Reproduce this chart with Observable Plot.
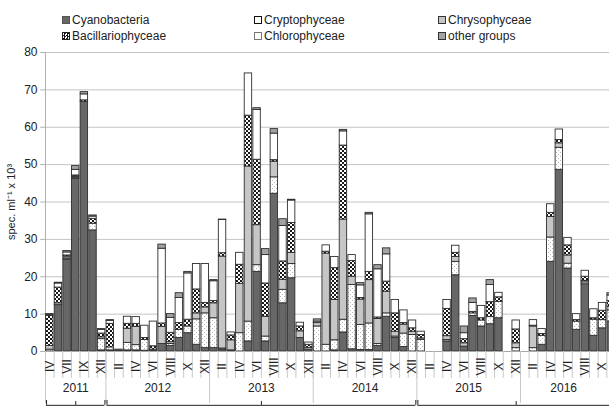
<!DOCTYPE html>
<html><head><meta charset="utf-8">
<script src="https://cdn.jsdelivr.net/npm/d3@7"></script>
<script src="https://cdn.jsdelivr.net/npm/@observablehq/plot@0.6"></script>
<style>
html,body{margin:0;padding:0;background:#fff;overflow:hidden;}
body{font-family:"Liberation Sans",Arial,sans-serif;}
#legend{position:relative;height:44px;width:609px;font-size:12px;color:#222;}
.item{position:absolute;display:flex;align-items:center;white-space:nowrap;line-height:14px;}
.sw{width:8px;height:8px;border:1px solid #333;margin-right:2px;box-sizing:border-box;}
</style></head><body>
<div id="legend"></div>
<div id="chart"></div>
<script>
// ---- categories (sampling months per year) ----
const roman = ["I","II","III","IV","V","VI","VII","VIII","IX","X","XI","XII"];
const years = [2011, 2012, 2013, 2014, 2015, 2016];
const sampleMonths = [
  ["IV","VI","VII","VIII","IX","XI","XII"],
  roman, roman, roman, roman,
  roman.slice(0, 11)
];
// slot range used to centre each year label
const yearLabelSpan = [[0,7],[7,19],[19,31],[31,43],[43,55],[55,65]];
// periods marked with brackets below the axis (slot ranges)
const periods = [[0,7],[7,43],[43,66]];
const yTicks = [0,10,20,30,40,50,60,70,80];

// ---- series values (spec. ml-1 x 10^3), null = no sample ----
const cyanobacteria = [0,12.4,24.6,46.2,66.8,32.4,0.3, 0.3,0.2,0.3,0.3,0.2,0.2,2.0,1.5,3.6,4.9,1.8,0.9,
  0.9,0.5,0.3,0,2.7,21.3,2.7,42.2,12.9,19.6,3.6,0.5, 0,0,0.3,5.1,0.6,0.4,0.4,1.5,9.3,3.6,1.2,0,
  0,null,null,2.7,20.4,1.3,9.5,6.7,7.3,8.9,null,0, null,0,1.8,24.0,48.6,22.2,5.8,18.0,4.2,6.2,8.0];
const chlorophyceae = [0.5,0,0.3,0.3,0,1.8,3.0, 0.8,0,2.0,1.4,2.9,0.3,0,0.5,2.2,1.8,6.8,9.3,
  8.0,0.3,0,4.9,5.3,1.8,1.3,4.4,3.6,3.8,0,0, 6.7,1.8,2.7,3.4,17.2,6.7,7.1,0.5,0.9,0.4,3.6,4.4,
  3.1,null,null,0.4,3.6,0,0.7,1.6,1.9,4.4,null,0.9, null,0.9,2.4,6.5,5.9,1.3,2.2,0.5,4.3,2.2,3.0];
const chrysophyceae = [1.0,0.5,0.5,0.3,0,0,0.5, 0,0.3,3.8,4.9,0,0,4.6,0.5,0,0,1.6,1.6,
  4.0,24.6,2.7,13.2,41.5,10.7,5.3,4.2,2.7,3.0,1.8,0.5, 0.9,24.4,10.8,26.8,2.2,6.8,11.6,6.7,5.8,1.3,2.4,0.9,
  0.4,null,null,1.0,1.3,0.9,0,0,0,0,null,1.3, null,5.8,0,5.5,1.2,2.2,0,0.4,0,0,1.0];
const bacillariophyceae = [8.0,4.2,0.3,0.3,0.4,1.3,1.0, 6.3,0,1.3,0.8,0.5,0.9,0.9,2.5,1.8,1.8,6.4,1.2,
  0.6,0.9,1.3,5.1,13.6,17.5,8.9,0.4,4.9,8.0,1.3,0.8, 0,0.5,8.5,19.8,4.2,0.4,2.2,0.4,2.7,4.9,0.4,0.9,
  0.9,null,null,7.3,1.1,1.1,0.4,0.6,4.0,1.2,null,3.7, null,0.2,0.5,1.1,0.9,2.7,0.4,1.1,0.4,2.5,1.5];
const cryptophyceae = [0.3,1.1,0.8,1.5,1.6,0.6,1.0, 0.8,0,1.9,1.8,3.3,6.6,20.0,4.0,6.7,12.4,6.8,10.4,
  5.3,8.9,0.8,3.2,11.3,13.3,7.6,7.1,9.5,6.0,1.0,0.6, 0.4,1.7,3.0,3.8,1.6,3.4,15.4,12.9,7.3,3.6,3.4,2.1,
  0.9,null,null,2.4,1.9,1.6,2.4,3.3,4.6,1.2,null,2.4, null,1.5,1.3,2.3,2.8,2.0,1.6,1.6,2.4,2.1,1.5];
const otherGroups = [0.2,0.2,0.4,1.0,0.6,0.3,0.2, 0.2,0,0,0,0,0,1.1,1.0,1.3,0.4,0,0,
  0.3,0.1,0,0,0,0.5,1.6,1.2,1.8,0.2,0,0, 0.6,0,0,0.4,0,0.6,0.4,1.1,1.6,0,0,0,
  0,null,null,0,0,1.8,1.2,0,1.3,0,null,0, null,0,0,0,0,0,0,0,0,0,0.6];

const seriesNames = ["Cyanobacteria","Chlorophyceae","Chrysophyceae","Bacillariophyceae","Cryptophyceae","other groups"];
const seriesValues = [cyanobacteria, chlorophyceae, chrysophyceae, bacillariophyceae, cryptophyceae, otherGroups];
const seriesFills = ["#676767","url(#dots)","#c6c6c6","url(#chk)","#ffffff","#a3a3a3"];

// ---- build tables ----
const slots = [];
years.forEach((yr, k) => sampleMonths[k].forEach(m => slots.push({year: yr, month: m})));
slots.forEach((s, i) => s.i = i);
const nSlots = slots.length; // 66

const rows = [];
slots.forEach((s, i) => {
  let acc = 0;
  seriesNames.forEach((name, j) => {
    const v = seriesValues[j][i];
    if (v == null || v <= 0) return;
    rows.push({i, name, y1: acc, y2: acc + v});
    acc += v;
  });
});

const monthLabels = slots.filter(s => s.i % 2 === 0);
const boundaries = d3.range(0, nSlots);
const yearBounds = yearLabelSpan.map(d => d[0]);
const yearLabels = years.map((y, k) => ({year: String(y), x: (yearLabelSpan[k][0] + yearLabelSpan[k][1]) / 2}));

const defsMark = () => {
  const g = document.createElementNS("http://www.w3.org/2000/svg", "g");
  g.innerHTML = `<defs>
    <pattern id="chk" width="4" height="4" patternUnits="userSpaceOnUse">
      <rect width="4" height="4" fill="#fff"/>
      <rect width="2" height="2" fill="#1a1a1a"/>
      <rect x="2" y="2" width="2" height="2" fill="#1a1a1a"/>
    </pattern>
    <pattern id="dots" width="4" height="4" patternUnits="userSpaceOnUse">
      <rect width="4" height="4" fill="#fff"/>
      <rect x="0" y="0" width="1" height="1" fill="#b5b5b5"/>
      <rect x="2" y="2" width="1" height="1" fill="#b5b5b5"/>
    </pattern></defs>`;
  return g;
};

const pitch = 8.636;
const chart = Plot.plot({
  width: 609,
  height: 373,
  marginLeft: 45, marginRight: 0, marginTop: 8, marginBottom: 66,
  x: {domain: [0, nSlots], range: [45, 45 + nSlots * pitch], axis: null},
  y: {domain: [0, 80], axis: null},
  color: {type: "ordinal", domain: seriesNames, range: seriesFills},
  style: {fontFamily: "'Liberation Sans', Arial, sans-serif", fontSize: "12px", color: "#222", background: "#fff"},
  marks: [
    defsMark,
    Plot.ruleY(yTicks.slice(1), {stroke: "#c4c4c4", strokeWidth: 1}),
    Plot.ruleX([0], {y1: 0, y2: 80, stroke: "#b0b0b0"}),
    Plot.ruleY(yTicks, {x1: -0.55, x2: 0, stroke: "#b0b0b0"}),
    Plot.text(yTicks, {x: 0, y: d => d, text: d => String(d), textAnchor: "end", dx: -8, fill: "#222"}),
    Plot.text(["spec. ml\u207B\u00B9 x 10\u00B3"], {x: 0, y: 40, dx: -34, rotate: -90, fill: "#222", fontSize: 11}),
    Plot.rect(rows, {x1: d => d.i, x2: d => d.i + 1, y1: "y1", y2: "y2", fill: "name",
      stroke: "#2e2e2e", strokeWidth: 0.9, insetLeft: 0.6, insetRight: 0.6}),
    Plot.ruleY([0], {stroke: "#a8a8a8"}),
    Plot.ruleX(boundaries, {y1: 0, y2: -7.2, stroke: "#c8c8c8"}),
    Plot.ruleX(yearBounds, {y1: 0, y2: -13.9, stroke: "#c8c8c8"}),
    Plot.text(monthLabels, {x: d => d.i + 0.5, y: -4, text: "month", rotate: -90, fill: "#222"}),
    Plot.text(yearLabels, {x: "x", y: -9.9, text: "year", fill: "#222"}),
    // period brackets
    Plot.ruleY(periods, {x1: d => d[0] + 0.12, x2: d => d[1] - 0.12, y: -14.4, stroke: "#222"}),
    Plot.ruleX(periods.flatMap(d => [d[0] + 0.12, d[1] - 0.12]), {y1: -14.4, y2: -13.1, stroke: "#222"}),
    Plot.ruleX(periods.map(d => (d[0] + d[1]) / 2), {y1: -14.4, y2: -13.4, stroke: "#222"})
  ]
});
document.getElementById("chart").appendChild(chart);

// ---- legend (HTML, above the SVG) ----
const legendOrder = ["Cyanobacteria","Cryptophyceae","Chrysophyceae","Bacillariophyceae","Chlorophyceae","other groups"];
const swatchCss = {
  "Cyanobacteria": "background:#676767;border-color:#555",
  "Cryptophyceae": "background:#fff;border-color:#111",
  "Chrysophyceae": "background:#c6c6c6;border-color:#333",
  "Bacillariophyceae": "background:repeating-conic-gradient(#1a1a1a 0 25%, #fff 0 50%) 0 0/3px 3px;border-color:#222",
  "Chlorophyceae": "background:#fff;border-color:#777",
  "other groups": "background:#a3a3a3;border-color:#333"
};
const colX = [62, 254, 438], rowY = [13, 29];
const legend = document.getElementById("legend");
legendOrder.forEach((name, k) => {
  const d = document.createElement("div");
  d.className = "item";
  d.style.left = colX[k % 3] + "px";
  d.style.top = rowY[Math.floor(k / 3)] + "px";
  d.innerHTML = `<span class="sw" style="${swatchCss[name]}"></span><span>${name}</span>`;
  legend.appendChild(d);
});
</script>
</body></html>
